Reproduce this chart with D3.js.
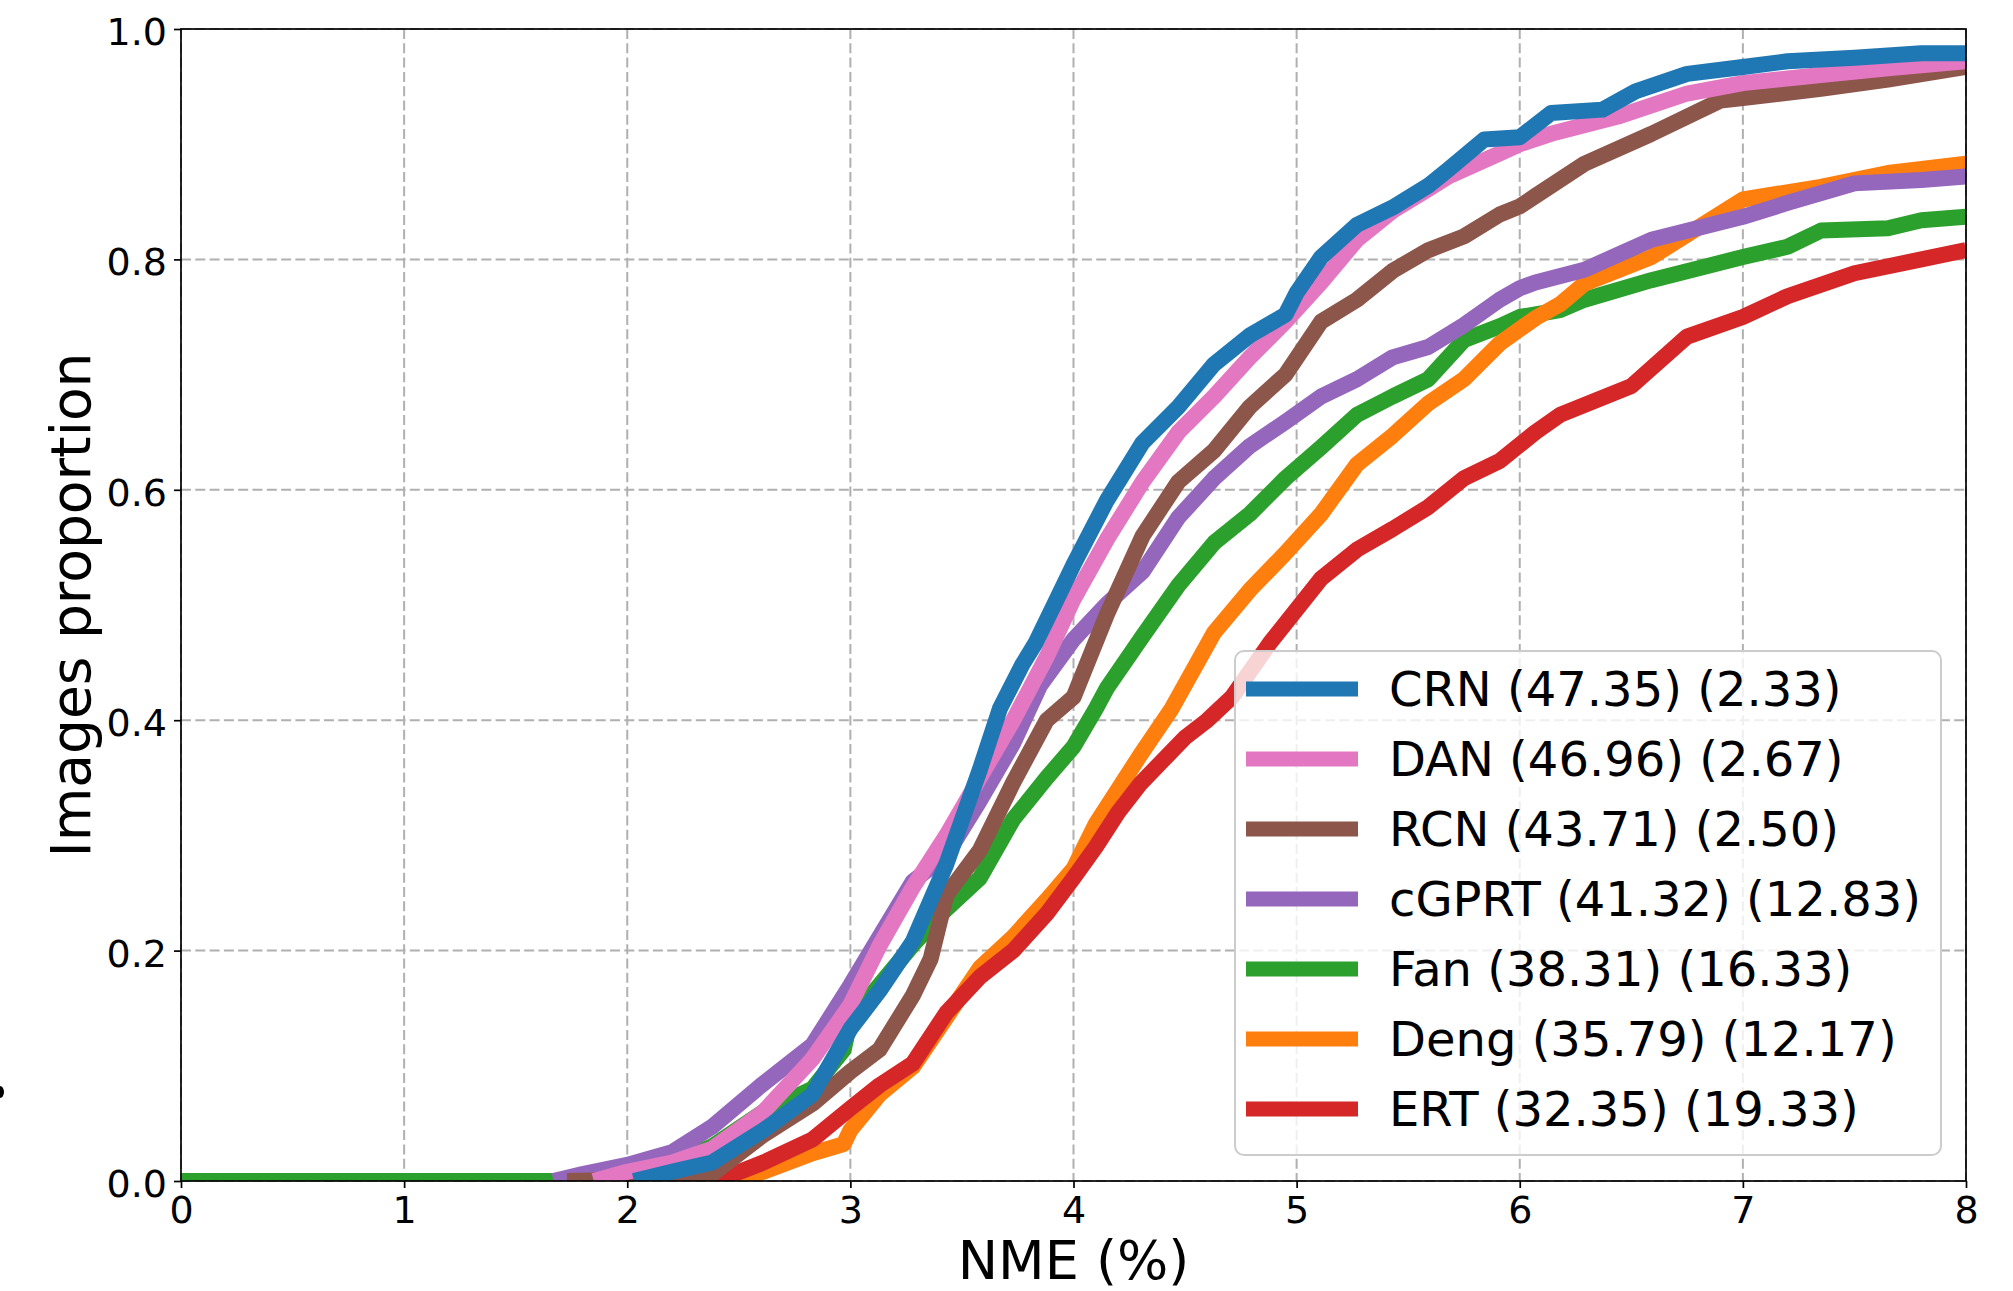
<!DOCTYPE html>
<html>
<head>
<meta charset="utf-8">
<script src="https://cdn.jsdelivr.net/npm/d3@7"></script>
<style>
  html, body { margin: 0; padding: 0; background: #fff; }
  svg { display: block; font-family: "DejaVu Sans", sans-serif; }
</style>
</head>
<body>
<svg id="chart" width="2013" height="1291"></svg>
<script>
// ============== Data ==============
const crn = [[2.03,0],[2.2,0.008],[2.38,0.016],[2.61,0.044],[2.83,0.075],[3.0,0.132],[3.13,0.165],[3.28,0.208],[3.43,0.275],[3.58,0.357],[3.67,0.41],[3.77,0.448],[3.83,0.467],[3.91,0.499],[4.0,0.535],[4.15,0.591],[4.31,0.641],[4.47,0.672],[4.63,0.709],[4.79,0.734],[4.95,0.752],[5.0,0.771],[5.11,0.802],[5.27,0.83],[5.43,0.845],[5.59,0.864],[5.68,0.878],[5.84,0.904],[6.0,0.906],[6.14,0.927],[6.37,0.93],[6.52,0.946],[6.75,0.961],[7.0,0.967],[7.2,0.972],[7.5,0.975],[7.8,0.979],[8.0,0.979]];
const dan = [[1.85,0],[2.0,0.008],[2.2,0.016],[2.38,0.028],[2.61,0.06],[2.83,0.106],[3.0,0.153],[3.13,0.204],[3.28,0.255],[3.43,0.3],[3.58,0.35],[3.73,0.4],[3.88,0.455],[4.0,0.505],[4.15,0.557],[4.31,0.607],[4.47,0.65],[4.63,0.681],[4.79,0.715],[4.95,0.746],[5.11,0.78],[5.27,0.817],[5.43,0.842],[5.59,0.861],[5.68,0.872],[5.91,0.892],[6.0,0.9],[6.14,0.909],[6.44,0.924],[6.75,0.944],[7.0,0.953],[7.35,0.96],[7.65,0.966],[8.0,0.972]];
const rcn = [[1.73,0],[2.2,0.002],[2.38,0.006],[2.61,0.04],[2.83,0.067],[3.0,0.095],[3.13,0.114],[3.28,0.161],[3.36,0.193],[3.43,0.248],[3.58,0.287],[3.73,0.346],[3.88,0.4],[4.0,0.42],[4.15,0.492],[4.31,0.56],[4.47,0.607],[4.63,0.634],[4.79,0.672],[4.95,0.7],[5.11,0.746],[5.27,0.765],[5.43,0.79],[5.59,0.808],[5.75,0.82],[5.91,0.839],[6.0,0.846],[6.07,0.855],[6.29,0.883],[6.59,0.909],[6.9,0.938],[7.0,0.94],[7.35,0.948],[7.65,0.956],[8.0,0.967]];
const cgprt = [[1.67,0],[1.8,0.006],[2.0,0.014],[2.2,0.025],[2.38,0.047],[2.6,0.083],[2.83,0.118],[3.0,0.17],[3.13,0.212],[3.28,0.26],[3.43,0.283],[3.58,0.33],[3.73,0.38],[3.85,0.43],[4.0,0.47],[4.15,0.501],[4.31,0.529],[4.47,0.576],[4.63,0.61],[4.79,0.638],[4.95,0.659],[5.11,0.681],[5.27,0.696],[5.43,0.715],[5.59,0.724],[5.75,0.743],[5.91,0.765],[6.0,0.775],[6.07,0.78],[6.29,0.791],[6.59,0.817],[7.0,0.837],[7.2,0.849],[7.5,0.866],[7.8,0.869],[8.0,0.872]];
const fan = [[0,0],[1.67,0],[2.0,0.005],[2.2,0.015],[2.38,0.03],[2.61,0.06],[2.83,0.08],[2.97,0.114],[3.0,0.14],[3.13,0.17],[3.28,0.205],[3.43,0.236],[3.58,0.263],[3.73,0.314],[3.88,0.35],[4.0,0.377],[4.1,0.41],[4.15,0.428],[4.31,0.473],[4.47,0.517],[4.63,0.554],[4.79,0.579],[4.95,0.61],[5.11,0.637],[5.27,0.665],[5.43,0.681],[5.59,0.696],[5.75,0.73],[5.91,0.742],[6.0,0.75],[6.18,0.756],[6.29,0.765],[6.59,0.782],[7.0,0.802],[7.2,0.811],[7.35,0.825],[7.65,0.827],[7.8,0.834],[8.0,0.837]];
const deng = [[2.45,0],[2.61,0.008],[2.83,0.024],[2.97,0.032],[3.0,0.044],[3.13,0.075],[3.28,0.099],[3.43,0.142],[3.58,0.185],[3.73,0.212],[3.88,0.244],[4.0,0.271],[4.1,0.31],[4.2,0.34],[4.3,0.37],[4.44,0.41],[4.63,0.476],[4.79,0.513],[4.95,0.545],[5.11,0.579],[5.27,0.622],[5.43,0.647],[5.59,0.675],[5.75,0.696],[5.91,0.727],[6.07,0.749],[6.18,0.761],[6.29,0.779],[6.59,0.802],[7.0,0.852],[7.35,0.863],[7.65,0.875],[8.0,0.883]];
const ert = [[2.4,0],[2.61,0.016],[2.83,0.036],[3.0,0.063],[3.13,0.083],[3.28,0.102],[3.43,0.146],[3.58,0.177],[3.73,0.2],[3.88,0.232],[4.0,0.263],[4.1,0.29],[4.2,0.32],[4.3,0.345],[4.4,0.365],[4.5,0.385],[4.6,0.4],[4.71,0.42],[4.88,0.467],[5.11,0.523],[5.27,0.548],[5.43,0.566],[5.59,0.585],[5.75,0.61],[5.91,0.625],[6.07,0.65],[6.18,0.665],[6.5,0.69],[6.75,0.733],[7.0,0.75],[7.2,0.768],[7.5,0.788],[7.8,0.8],[8.0,0.808]];

const legendLabels = ['CRN (47.35) (2.33)', 'DAN (46.96) (2.67)', 'RCN (43.71) (2.50)',
  'cGPRT (41.32) (12.83)', 'Fan (38.31) (16.33)', 'Deng (35.79) (12.17)', 'ERT (32.35) (19.33)'];
const seriesData = [crn, dan, rcn, cgprt, fan, deng, ert];
const colors = ['#1f77b4', '#e377c2', '#8c564b', '#9467bd', '#2ca02c', '#ff7f0e', '#d62728'];
// order the lines are painted in (last one on top)
const drawOrder = [4, 5, 6, 3, 2, 1, 0];

const xTicks = [0, 1, 2, 3, 4, 5, 6, 7, 8];
const yTicks = [0, 0.2, 0.4, 0.6, 0.8, 1.0];

// ============== Layout ==============
const plot = {left: 181, right: 1966, top: 29, bottom: 1181};
const svg = d3.select('#chart');

const x = d3.scaleLinear().domain([0, 8]).range([plot.left, plot.right]);
const y = d3.scaleLinear().domain([0, 1]).range([plot.bottom, plot.top]);

// ============== Grid ==============
const grid = svg.append('g')
  .attr('stroke', '#b0b0b0')
  .attr('stroke-width', 2)
  .attr('stroke-dasharray', '10,4.3');

grid.selectAll('.vgrid')
  .data(xTicks)
  .enter().append('line')
    .attr('x1', d => x(d)).attr('x2', d => x(d))
    .attr('y1', plot.top).attr('y2', plot.bottom);

grid.selectAll('.hgrid')
  .data(yTicks)
  .enter().append('line')
    .attr('y1', d => y(d)).attr('y2', d => y(d))
    .attr('x1', plot.left).attr('x2', plot.right);

// ============== Lines ==============
svg.append('defs').append('clipPath')
    .attr('id', 'plot-clip')
  .append('rect')
    .attr('x', plot.left).attr('y', plot.top)
    .attr('width', plot.right - plot.left)
    .attr('height', plot.bottom - plot.top);

const line = d3.line()
  .x(d => x(d[0]))
  .y(d => y(d[1]));

svg.append('g')
    .attr('clip-path', 'url(#plot-clip)')
  .selectAll('path')
  .data(drawOrder)
  .enter().append('path')
    .attr('d', i => line(seriesData[i]))
    .attr('fill', 'none')
    .attr('stroke', i => colors[i])
    .attr('stroke-width', 16)
    .attr('stroke-linejoin', 'round');

// ============== Axes ==============
const xAxis = svg.append('g')
  .attr('transform', `translate(0,${plot.bottom})`)
  .call(d3.axisBottom(x).tickValues(xTicks).tickFormat(d3.format('d'))
    .tickSize(7).tickPadding(8).tickSizeOuter(0));

const yAxis = svg.append('g')
  .attr('transform', `translate(${plot.left},0)`)
  .call(d3.axisLeft(y).tickValues(yTicks).tickFormat(d3.format('.1f'))
    .tickSize(7).tickPadding(7).tickSizeOuter(0));

[xAxis, yAxis].forEach(ax => {
  ax.select('.domain').remove();
  ax.selectAll('.tick line').attr('stroke', '#000').attr('stroke-width', 1.7);
  ax.selectAll('.tick text')
    .attr('fill', '#000')
    .style('font-family', '"DejaVu Sans", sans-serif')
    .style('font-size', '38px');
});
yAxis.selectAll('.tick text').attr('dy', '0.41em');

// spines
svg.append('rect')
  .attr('x', plot.left).attr('y', plot.top)
  .attr('width', plot.right - plot.left)
  .attr('height', plot.bottom - plot.top)
  .attr('fill', 'none')
  .attr('stroke', '#000')
  .attr('stroke-width', 1.7);

// ============== Labels ==============
svg.append('text')
  .text('NME (%)')
  .attr('x', (plot.left + plot.right) / 2)
  .attr('y', 1279)
  .attr('text-anchor', 'middle')
  .style('font-size', '54px');

svg.append('text')
  .text('Images proportion')
  .attr('transform', `translate(90,${(plot.top + plot.bottom) / 2}) rotate(-90)`)
  .attr('text-anchor', 'middle')
  .style('font-size', '55px');

// clipped remnant at the left edge of the figure
svg.append('ellipse')
  .attr('cx', 0).attr('cy', 1092)
  .attr('rx', 4).attr('ry', 6)
  .attr('fill', '#000');

// ============== Legend ==============
const legend = svg.append('g');

legend.append('rect')
  .attr('x', 1235).attr('y', 651)
  .attr('width', 706).attr('height', 504)
  .attr('rx', 9)
  .attr('fill', '#fff')
  .attr('fill-opacity', 0.8)
  .attr('stroke', '#cccccc')
  .attr('stroke-width', 2);

const rows = legend.selectAll('.legend-row')
  .data(legendLabels)
  .enter().append('g')
    .attr('class', 'legend-row')
    .attr('transform', (d, i) => `translate(0,${689 + i * 70})`);

rows.append('line')
  .attr('x1', 1246).attr('x2', 1358)
  .attr('y1', 0).attr('y2', 0)
  .attr('stroke', (d, i) => colors[i])
  .attr('stroke-width', 15);

rows.append('text')
  .text(d => d)
  .attr('x', 1389)
  .attr('y', 17)
  .style('font-size', '48px');
</script>
</body>
</html>
